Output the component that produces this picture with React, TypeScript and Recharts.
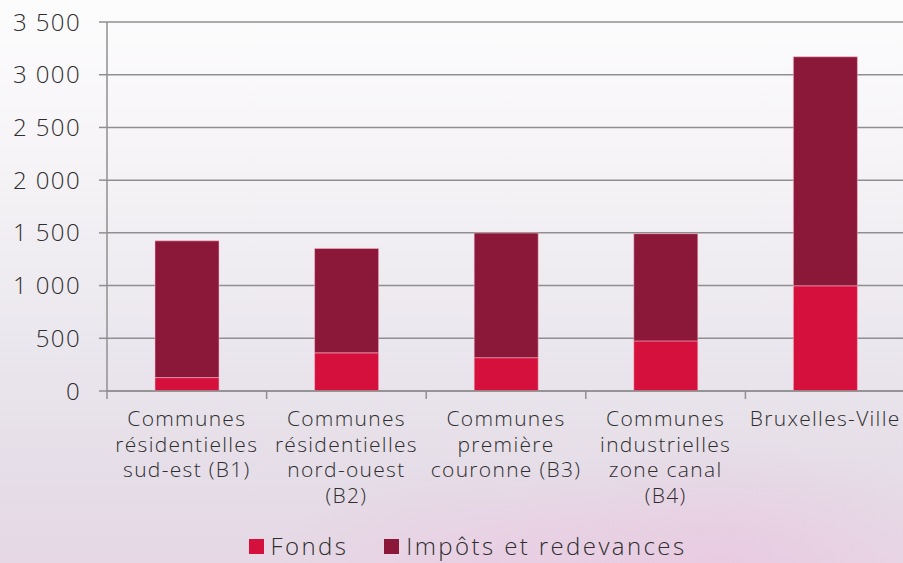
import React from "react";
import { BarChart, Bar, XAxis, YAxis, CartesianGrid, Legend } from "recharts";

const categories = [
  "Communes résidentielles sud-est (B1)",
  "Communes résidentielles nord-ouest (B2)",
  "Communes première couronne (B3)",
  "Communes industrielles zone canal (B4)",
  "Bruxelles-Ville",
];
const tickLines = [
  ["Communes", "résidentielles", "sud-est (B1)"],
  ["Communes", "résidentielles", "nord-ouest", "(B2)"],
  ["Communes", "première", "couronne (B3)"],
  ["Communes", "industrielles", "zone canal", "(B4)"],
  ["Bruxelles-Ville"],
];
const fonds = [127, 362, 316, 475, 998];
const impots = [1297, 990, 1182, 1017, 2172];
const yTicks = [0, 500, 1000, 1500, 2000, 2500, 3000, 3500];
const seriesNames = ["Fonds", "Impôts et redevances"];
const colors = ["#D6103D", "#8B1839"];

const data = categories.map((c, i) => ({ name: c, fonds: fonds[i], impots: impots[i] }));

const FONT = "'Open Sans', sans-serif";

const fmt = (v: number) => {
  const s = String(v);
  if (s.length > 3) return s.slice(0, s.length - 3) + " " + s.slice(s.length - 3);
  return s;
};

const XTick = (props: any) => {
  const { x, y, payload, index } = props;
  const off = payload.offset || 0;
  const lines = tickLines[index] || [payload.value];
  return (
    <g>
      <line x1={x - off} x2={x - off} y1={y - 8} y2={y} stroke="#8f8f8f" strokeWidth={1.5} />
      <text x={x} y={y} textAnchor="middle" fill="#2e2e2e" fontFamily={FONT} fontSize={21} fontWeight={300} letterSpacing={1.3}>
        {lines.map((l: string, i: number) => (
          <tspan key={i} x={x} y={y + 27 + i * 25.5}>
            {l}
          </tspan>
        ))}
      </text>
    </g>
  );
};

const LegendContent = () => (
  <div style={{ display: "flex", justifyContent: "center", alignItems: "center", height: 28, lineHeight: "28px", paddingLeft: 30, fontFamily: FONT, fontSize: 24, fontWeight: 300, color: "#2e2e2e", letterSpacing: 2.4 }}>
    {seriesNames.map((n, i) => (
      <div key={n} style={{ display: "flex", alignItems: "center", marginRight: i === 0 ? 36 : 0 }}>
        <div style={{ width: 15, height: 15, background: colors[i], marginRight: 7 }} />
        <span>{n}</span>
      </div>
    ))}
  </div>
);

export default function App() {
  return (
    <div
      style={{
        position: "absolute",
        left: 0,
        top: 0,
        width: 903,
        height: 563,
        overflow: "hidden",
        background:
          "radial-gradient(ellipse 260px 120px at 720px 560px, rgba(236,190,222,0.5), rgba(236,190,222,0) 100%), radial-gradient(ellipse 200px 100px at 480px 560px, rgba(236,195,225,0.4), rgba(236,195,225,0) 100%), linear-gradient(180deg, #fdfcfd 0%, #f5f3f6 30%, #ebe7ee 60%, #e5dde7 85%, #e6d8e5 100%)",
      }}
    >
      <BarChart
        width={903}
        height={563}
        data={data}
        margin={{ top: 22, right: -2, left: 0, bottom: 3 }}
        barSize={64}
      >
        <CartesianGrid vertical={false} stroke="#8f8f8f" strokeWidth={1.5} />
        <XAxis
          dataKey="name"
          interval={0}
          height={141}
          axisLine={{ stroke: "#8f8f8f", strokeWidth: 1.5 }}
          tickLine={false}
          tick={<XTick />}
        />
        <YAxis
          width={107}
          domain={[0, 3500]}
          ticks={yTicks}
          interval={0}
          tickFormatter={fmt}
          axisLine={{ stroke: "#8f8f8f", strokeWidth: 1.5 }}
          tickLine={{ stroke: "#8f8f8f", strokeWidth: 1.5 }}
          tickSize={8}
          tickMargin={18}
          tick={{ fill: "#2e2e2e", fontFamily: FONT, fontSize: 24, fontWeight: 300, letterSpacing: 1.4 }}
        />
        <Legend verticalAlign="bottom" height={28} content={<LegendContent />} />
        <Bar dataKey="fonds" name={seriesNames[0]} stackId="a" fill={colors[0]} stroke="rgba(255,190,210,0.5)" strokeWidth={1} isAnimationActive={false} />
        <Bar dataKey="impots" name={seriesNames[1]} stackId="a" fill={colors[1]} stroke="rgba(255,190,210,0.5)" strokeWidth={1} isAnimationActive={false} />
      </BarChart>
    </div>
  );
}
